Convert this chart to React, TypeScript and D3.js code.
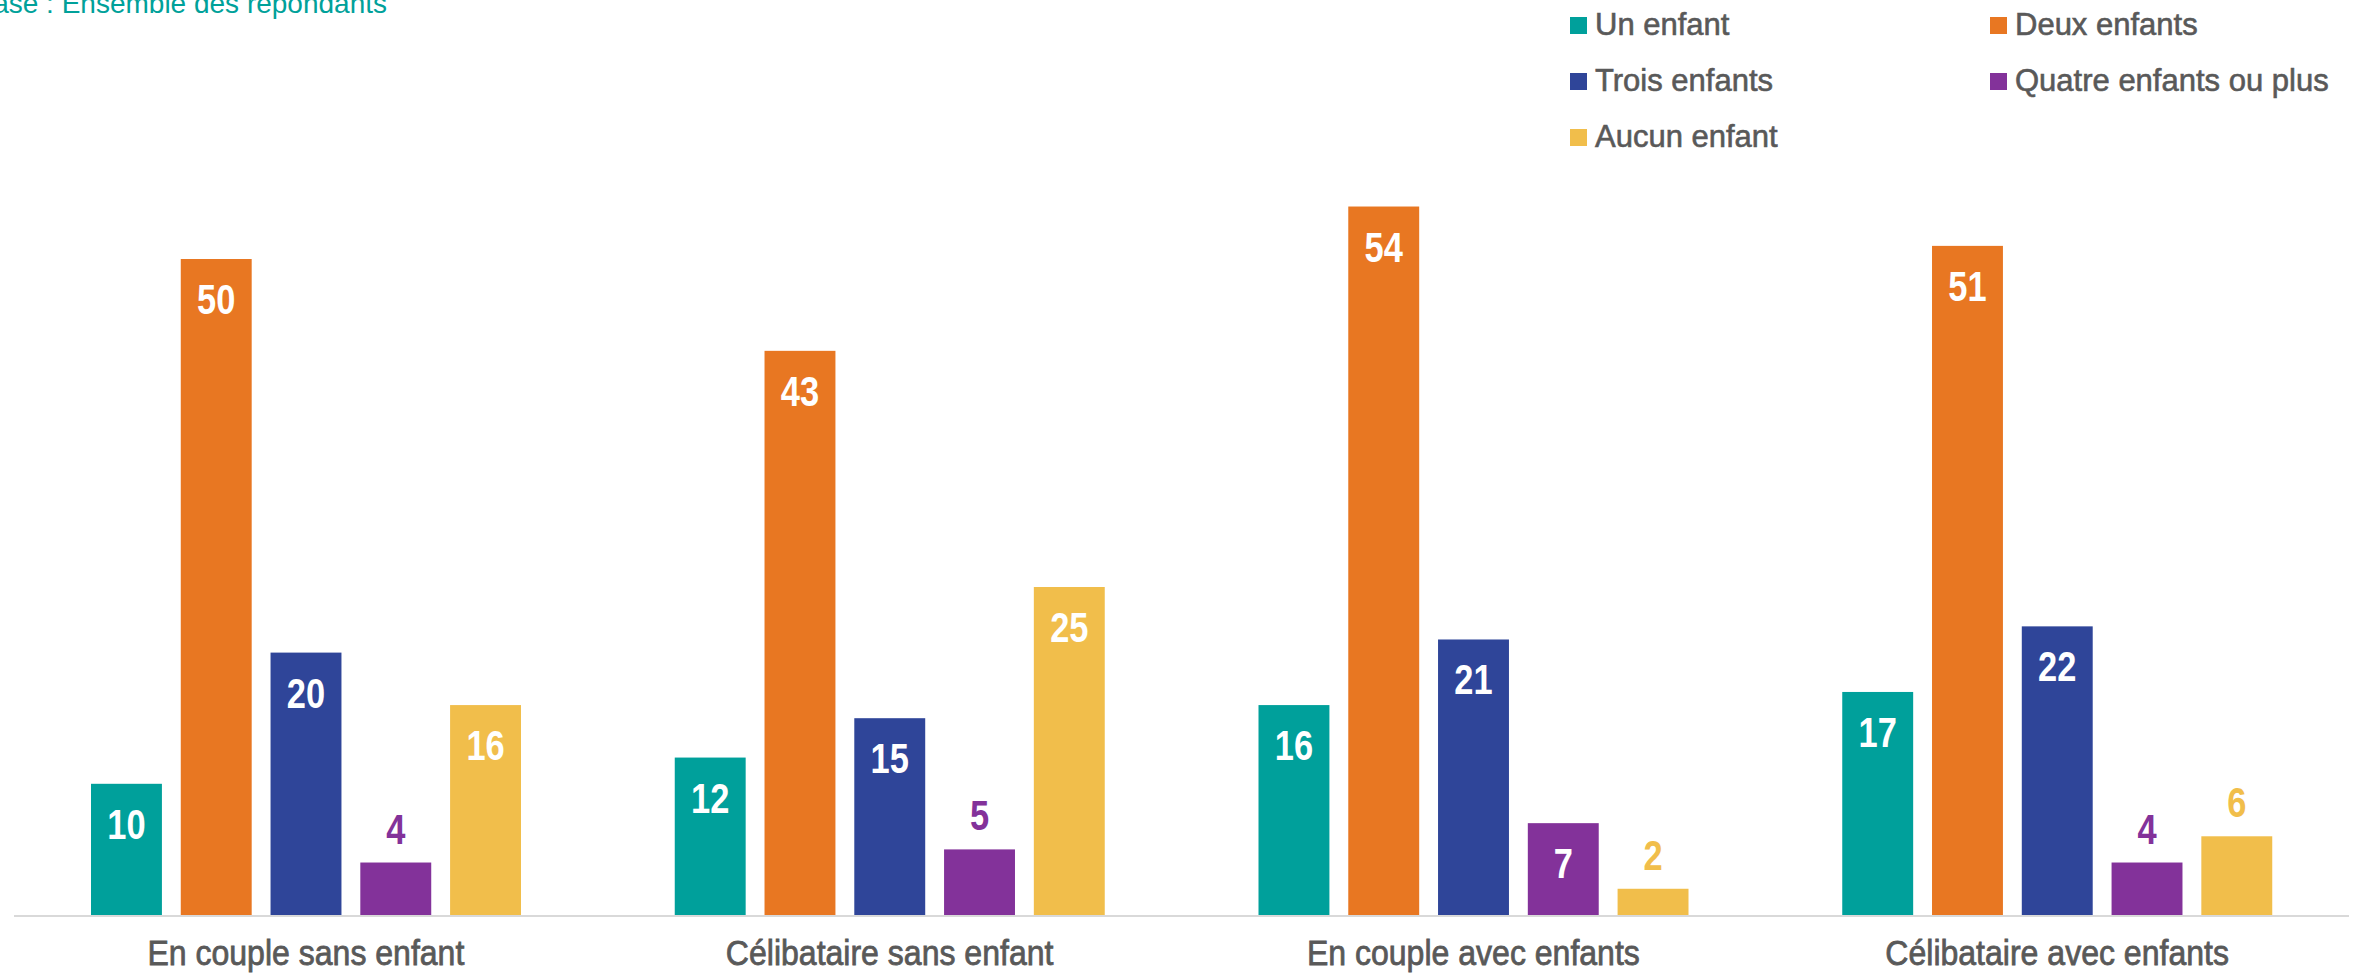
import React from "react";
import * as d3 from "d3";

const categories = [
  "En couple sans enfant",
  "Célibataire sans enfant",
  "En couple avec enfants",
  "Célibataire avec enfants",
];
const seriesNames = [
  "Un enfant",
  "Deux enfants",
  "Trois enfants",
  "Quatre enfants ou plus",
  "Aucun enfant",
];
const unEnfant = [10, 12, 16, 17];
const deuxEnfants = [50, 43, 54, 51];
const troisEnfants = [20, 15, 21, 22];
const quatreEnfants = [4, 5, 7, 4];
const aucunEnfant = [16, 25, 2, 6];
const seriesValues = [unEnfant, deuxEnfants, troisEnfants, quatreEnfants, aucunEnfant];
const seriesColors = ["#00a09b", "#e87722", "#2f4599", "#83329a", "#f1be4b"];
const title = "Base : Ensemble des répondants";

const W = 2377;
const H = 973;
const FONT = "'Liberation Sans', Arial, sans-serif";
const GRAY = "#595959";

export default function App() {
  const x0 = d3.scaleBand<string>().domain(categories).range([14, 2349]).padding(0);
  const x1 = d3.scaleBand<string>().domain(seriesNames).range([77, 507]).paddingInner(0.21);
  const y = d3.scaleLinear().domain([0, 60]).range([915, 915 - 60 * 13.12]);
  const bw = x1.bandwidth();

  const legendCols = [1570, 1990];
  const legendRows = [35, 91, 147];

  return (
    <svg
      width={W}
      height={H}
      viewBox={`0 0 ${W} ${H}`}
      style={{ position: "absolute", left: 0, top: 0, display: "block", background: "#fff" }}
      fontFamily={FONT}
    >
      <rect x={0} y={0} width={W} height={H} fill="#fff" />
      {/* Title (clipped on the left as in the original) */}
      <text x={387} y={13} textAnchor="end" fontSize={28} fill="#00a19a">
        {title}
      </text>

      {/* Legend */}
      {seriesNames.map((s, i) => {
        const lx = legendCols[i % 2];
        const ly = legendRows[Math.floor(i / 2)];
        return (
          <g key={s}>
            <rect x={lx} y={ly - 18} width={17} height={17} fill={seriesColors[i]} />
            <text
              x={lx + 25}
              y={ly}
              fontSize={31}
              fill={GRAY}
              stroke={GRAY}
              strokeWidth={0.6}
            >
              {s}
            </text>
          </g>
        );
      })}

      {/* Bars */}
      {categories.map((c, ci) => (
        <g key={c} transform={`translate(${x0(c)},0)`}>
          {seriesNames.map((s, si) => {
            const v = seriesValues[si][ci];
            const bx = x1(s) as number;
            const top = y(v);
            const inside = v >= 7;
            const ty = inside ? top + 55 : top - 19;
            return (
              <g key={s}>
                <rect x={bx} y={top} width={bw} height={y(0) - top} fill={seriesColors[si]} />
                <g transform={`translate(${bx + bw / 2},${ty}) scale(0.82,1)`}>
                  <text
                    x={0}
                    y={0}
                    textAnchor="middle"
                    fontSize={42}
                    fontWeight="bold"
                    fill={inside ? "#ffffff" : seriesColors[si]}
                  >
                    {v}
                  </text>
                </g>
              </g>
            );
          })}
        </g>
      ))}

      {/* Axis line */}
      <line x1={14} x2={2349} y1={916} y2={916} stroke="#d9d9d9" strokeWidth={2} />

      {/* Category labels */}
      {categories.map((c) => (
        <g key={c} transform={`translate(${(x0(c) as number) + x0.bandwidth() / 2},965) scale(0.89,1)`}>
          <text
            x={0}
            y={0}
            textAnchor="middle"
            fontSize={36}
            fill={GRAY}
            stroke={GRAY}
            strokeWidth={0.8}
          >
            {c}
          </text>
        </g>
      ))}
    </svg>
  );
}
